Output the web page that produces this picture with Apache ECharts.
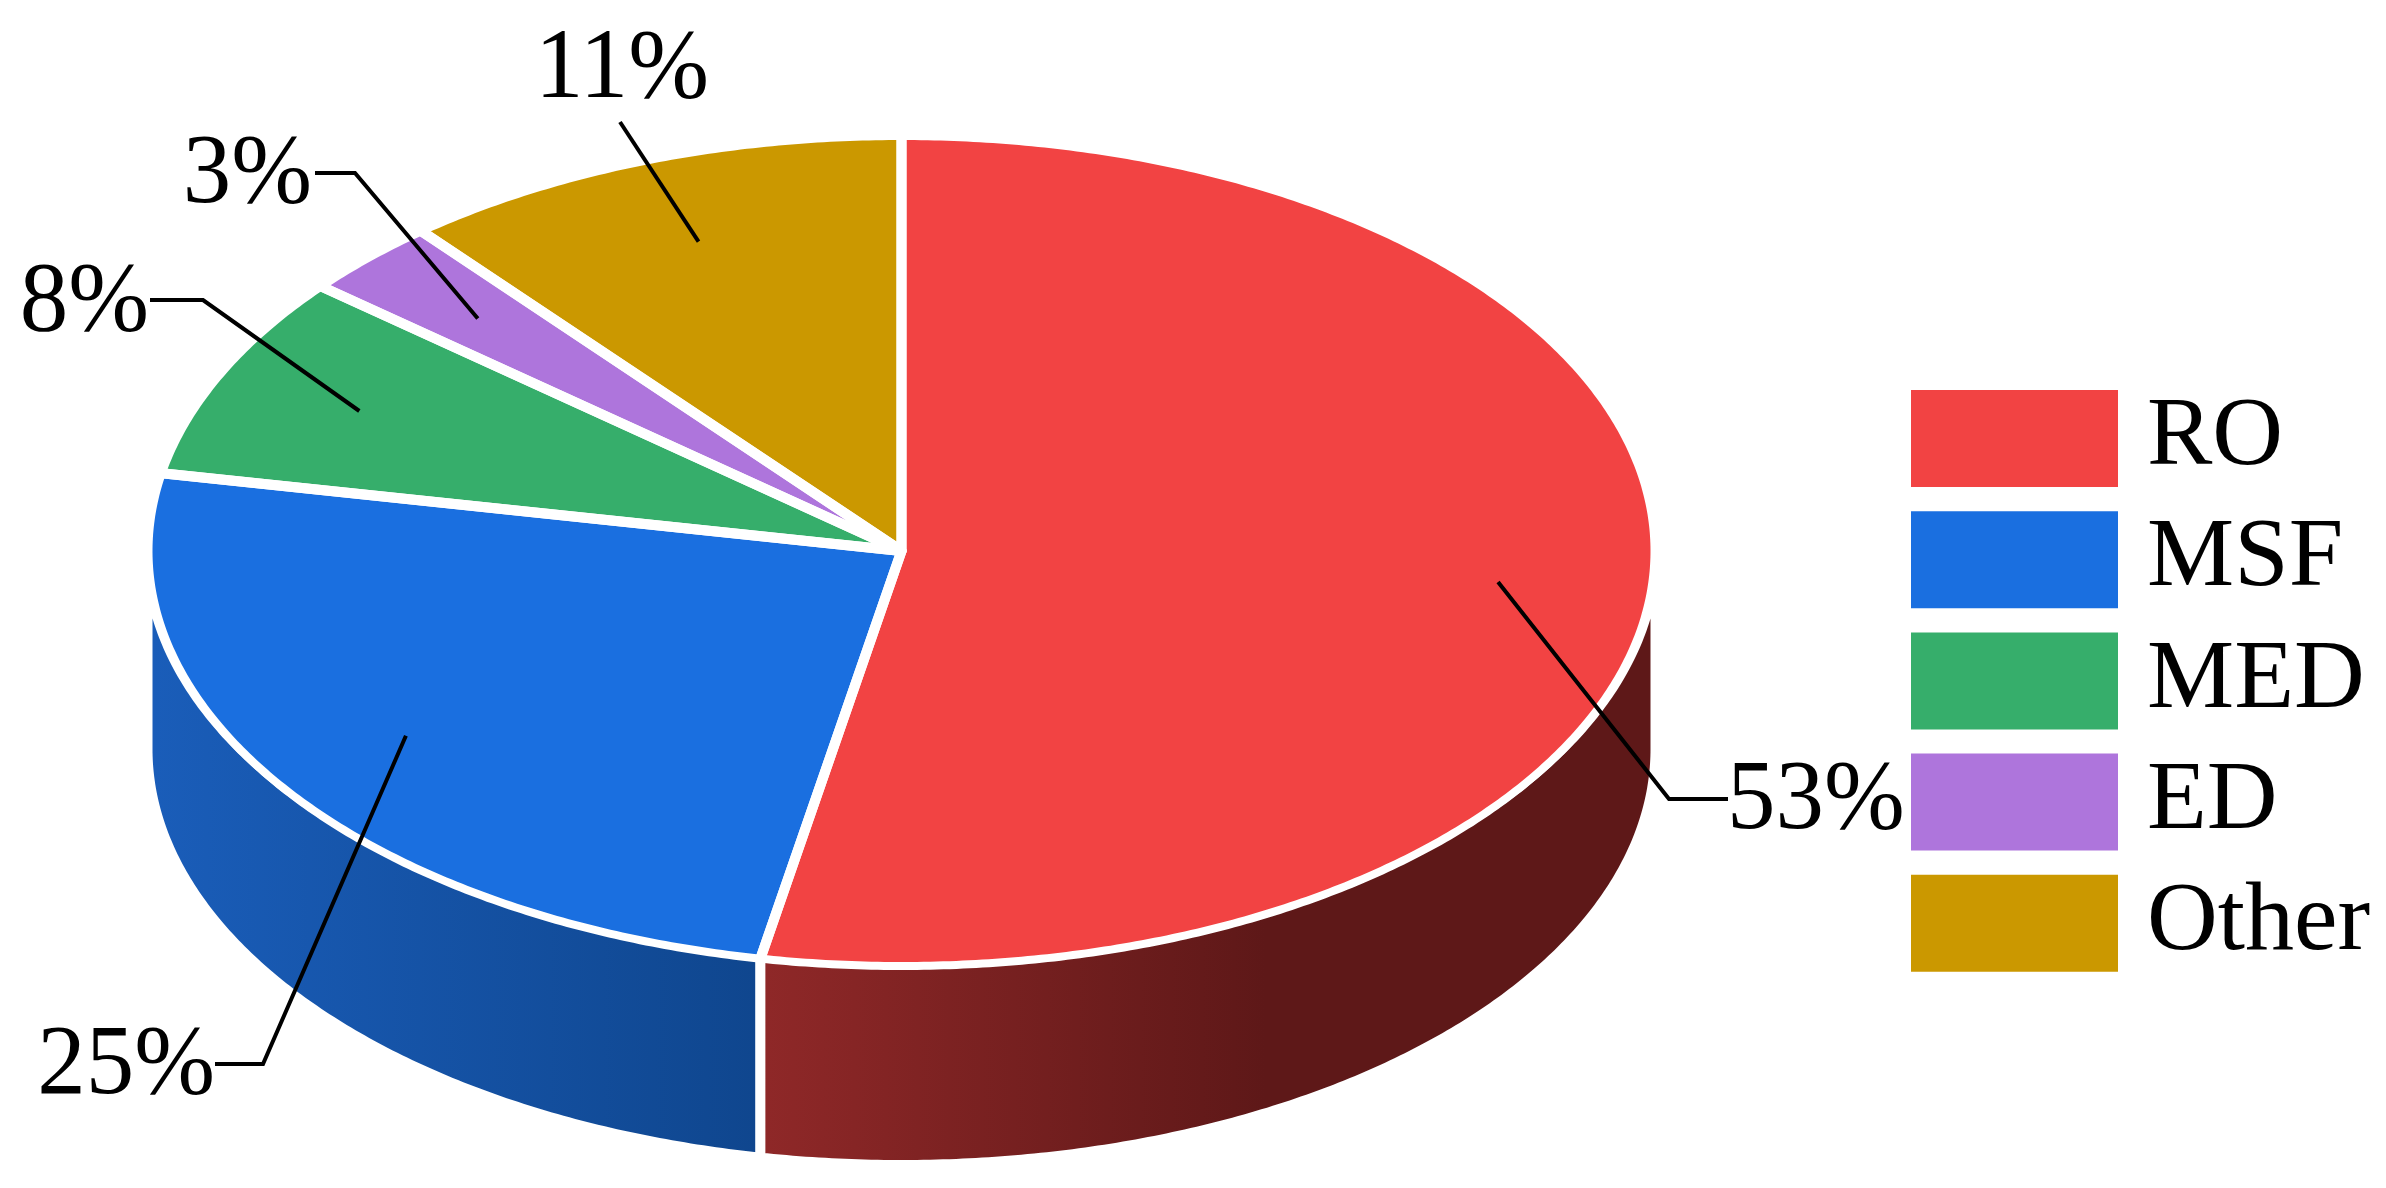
<!DOCTYPE html>
<html>
<head>
<meta charset="utf-8">
<style>html,body{margin:0;padding:0;background:#fff}#c{width:2386px;height:1188px}</style>
<script src="https://cdn.jsdelivr.net/npm/echarts@6/dist/echarts.min.js"></script>
</head>
<body>
<div id="c"></div>
<script>
var categories = ['RO', 'MSF', 'MED', 'ED', 'Other'];
var shares = [53, 25, 8, 3, 11];
var topColors = ['#F24343', '#1A6FE0', '#36AE6B', '#AE75DC', '#CB9800'];
var sideFrom = ['#8F2828', '#1A5DB9', '#36AE6B', '#AE75DC', '#CB9800'];
var sideTo = ['#5E1818', '#0F468E', '#36AE6B', '#AE75DC', '#CB9800'];
var sideGradStops = [[761, 1265], [152, 761], [0, 1], [0, 1], [0, 1]];
// leader-line geometry: [elbow|null, end] and label anchor
var labelPos = [
  {elbow: [1669, 799], end: [1728, 799], text: [1727, 801.5], align: 'left'},
  {elbow: [263, 1064], end: [215, 1064], text: [215, 1066.5], align: 'right'},
  {elbow: [203, 300], end: [150, 300], text: [149, 303.5], align: 'right'},
  {elbow: [355, 173], end: [315, 173], text: [312, 175.5], align: 'right'},
  {elbow: null, end: [620, 122], text: [622, 70.5], align: 'center'}
];
var pie = {cx: 901.5, cy: 551, rx: 749, ry: 411, depth: 198, rim: 8, gap: 10, sideBorder: 10, leaderAt: 0.8};
var fontName = '"Liberation Serif", "Times New Roman", serif';
var fontPx = 97;
var textStretchY = 1.03;

var total = shares.reduce(function (a, b) { return a + b; }, 0);
function point(deg, rx, ry, dy) {
  var t = deg * Math.PI / 180;
  return [pie.cx + rx * Math.sin(t), pie.cy + (dy || 0) - ry * Math.cos(t)];
}
function arc(a, b, rx, ry, dy) {
  var n = Math.max(2, Math.ceil(Math.abs(b - a) * 2)), pts = [];
  for (var i = 0; i <= n; i++) pts.push(point(a + (b - a) * i / n, rx, ry, dy));
  return pts;
}
function makeRender(i) {
  return function (params, api) {
    var value = api.value(0), before = api.value(1);
    var a = before / total * 360, b = (before + value) / total * 360;
    var children = [];
    var s = Math.max(a, 90), e = Math.min(b, 270);
    if (e > s) {
      var h = pie.sideBorder / 2;
      var pts = arc(s, e, pie.rx + h, pie.ry, 0).concat(arc(e, s, pie.rx + h, pie.ry + h, pie.depth));
      children.push({
        type: 'polygon', z2: 1, shape: {points: pts},
        style: {
          stroke: '#fff', lineWidth: pie.sideBorder, lineJoin: 'miter',
          fill: new echarts.graphic.LinearGradient(sideGradStops[i][0], 0, sideGradStops[i][1], 0,
            [{offset: 0, color: sideFrom[i]}, {offset: 1, color: sideTo[i]}], true)
        }
      });
    }
    var g = pie.rim / 2;
    var outer = arc(a, b, pie.rx + g, pie.ry + g, 0);
    children.push({
      type: 'polygon', z2: 2,
      shape: {points: [[pie.cx, pie.cy]].concat(outer)},
      style: {fill: topColors[i], stroke: '#fff', lineWidth: pie.rim, lineJoin: 'round'}
    });
    children.push({
      type: 'polyline', z2: 3,
      shape: {points: [outer[0], [pie.cx, pie.cy], outer[outer.length - 1]]},
      style: {stroke: '#fff', lineWidth: pie.gap, fill: null, lineJoin: 'round', lineCap: 'butt'}
    });
    var mid = (a + b) / 2;
    var lp = labelPos[i];
    var line = [point(mid, pie.rx * pie.leaderAt, pie.ry * pie.leaderAt, 0)];
    if (lp.elbow) line.push(lp.elbow);
    line.push(lp.end);
    children.push({
      type: 'polyline', z2: 4, shape: {points: line},
      style: {stroke: '#000', lineWidth: 4, fill: null, lineJoin: 'miter'}
    });
    children.push({
      type: 'text', z2: 5, x: lp.text[0], y: lp.text[1], scaleY: textStretchY,
      style: {
        text: value + '%', fill: '#000', align: lp.align, verticalAlign: 'middle',
        font: fontPx + 'px ' + fontName
      }
    });
    return {type: 'group', children: children};
  };
}
var running = 0;
var series = categories.map(function (name, i) {
  var row = [shares[i], running];
  running += shares[i];
  return {
    type: 'custom', name: name, coordinateSystem: 'none',
    renderItem: makeRender(i), data: [row], silent: true,
    itemStyle: {color: topColors[i]}, animation: false
  };
});
var chart = echarts.init(document.getElementById('c'), null, {renderer: 'canvas'});
chart.setOption({
  backgroundColor: '#fff',
  animation: false,
  legend: {
    data: categories.map(function (n) { return {name: n, icon: 'rect'}; }),
    orient: 'vertical', left: 1911, top: 389.5, padding: 0,
    itemWidth: 207, itemHeight: 97, itemGap: 23.2, selectedMode: false,
    textStyle: {fontFamily: fontName, fontSize: 98, color: '#000', padding: [26, 0, 0, 24], lineHeight: 70}
  },
  series: series
});
</script>
</body>
</html>
